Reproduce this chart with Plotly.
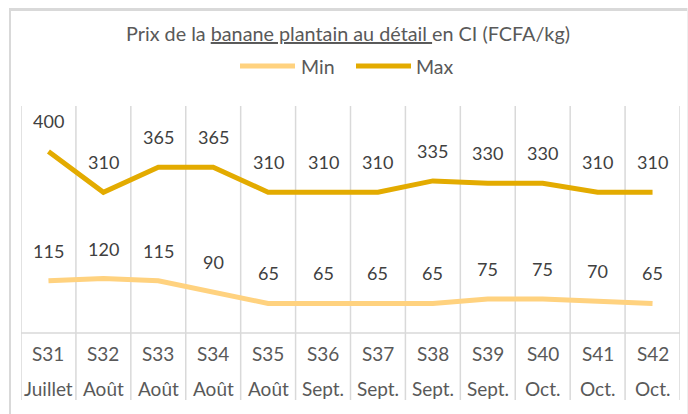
import plotly.graph_objects as go

weeks = ["S31", "S32", "S33", "S34", "S35", "S36", "S37", "S38", "S39", "S40", "S41", "S42"]
months = ["Juillet", "Août", "Août", "Août", "Août", "Sept.", "Sept.", "Sept.", "Sept.", "Oct.", "Oct.", "Oct."]
min_vals = [115, 120, 115, 90, 65, 65, 65, 65, 75, 75, 70, 65]
max_vals = [400, 310, 365, 365, 310, 310, 310, 335, 330, 330, 310, 310]

title_text = "Prix de la <u>banane plantain au détail\u00a0</u>en CI (FCFA/kg)"
series_names = ["Min", "Max"]
colors = {"Min": "#FFD27F", "Max": "#E3AB00"}

W, H = 688, 414
L, R, T, B = 21, 8, 106, 81
PW = W - L - R
PH = H - T - B
FONT = "Lato, 'Open Sans', sans-serif"
GRID = "#D9D9D9"


def px_x(p):
    return (p - L) / PW


def px_y(p):
    return (T + PH - p) / PH


fig = go.Figure()
xs = list(range(len(weeks)))
for name, vals in (("Min", min_vals), ("Max", max_vals)):
    fig.add_trace(go.Scatter(
        x=xs, y=vals, mode="lines", name=name,
        line=dict(color=colors[name], width=5),
        hoverinfo="skip", showlegend=False, cliponaxis=False,
    ))

shapes = []
# category separators (extend down through the label area)
for i in range(len(weeks) + 1):
    shapes.append(dict(type="line", xref="x", yref="paper",
                       x0=i - 0.5, x1=i - 0.5, y0=px_y(400), y1=1,
                       line=dict(color=GRID, width=1.5), layer="below"))
# axis line
shapes.append(dict(type="line", xref="paper", yref="paper", x0=0, x1=1, y0=0, y1=0,
                   line=dict(color=GRID, width=1.5), layer="below"))
# outer frame
shapes.append(dict(type="line", xref="paper", yref="paper",
                   x0=px_x(9), x1=px_x(690), y0=px_y(9.5), y1=px_y(9.5),
                   line=dict(color=GRID, width=3)))
shapes.append(dict(type="line", xref="paper", yref="paper",
                   x0=px_x(10), x1=px_x(10), y0=px_y(8), y1=px_y(416),
                   line=dict(color=GRID, width=2)))
shapes.append(dict(type="line", xref="paper", yref="paper",
                   x0=px_x(687.5), x1=px_x(687.5), y0=px_y(8), y1=px_y(416),
                   line=dict(color="#EEEEEE", width=1)))

# legend swatches
for x_left, name in ((240, "Min"), (356, "Max")):
    shapes.append(dict(type="line", xref="paper", yref="paper",
                       x0=px_x(x_left), x1=px_x(x_left + 55), y0=px_y(66), y1=px_y(66),
                       line=dict(color=colors[name], width=5)))

annotations = []
for vals in (min_vals, max_vals):
    for i, v in enumerate(vals):
        annotations.append(dict(x=i, y=v, xref="x", yref="y", text=str(v), showarrow=False,
                                yshift=30, font=dict(family=FONT, size=18, color="#404040")))
for i, (w, m) in enumerate(zip(weeks, months)):
    annotations.append(dict(x=i, y=px_y(353), xref="x", yref="paper", text=w, showarrow=False,
                            yanchor="middle", font=dict(family=FONT, size=19, color="#595959")))
    annotations.append(dict(x=i, y=px_y(388), xref="x", yref="paper", text=m, showarrow=False,
                            yanchor="middle", font=dict(family=FONT, size=19, color="#595959")))
annotations.append(dict(x=px_x(348), y=px_y(33), xref="paper", yref="paper", text=title_text,
                        showarrow=False, yanchor="middle",
                        font=dict(family=FONT, size=19.8, color="#595959")))
annotations.append(dict(x=px_x(299), y=px_y(66), xref="paper", yref="paper", text=series_names[0],
                        showarrow=False, xanchor="left", yanchor="middle",
                        font=dict(family=FONT, size=19.5, color="#595959")))
annotations.append(dict(x=px_x(414), y=px_y(66), xref="paper", yref="paper", text=series_names[1],
                        showarrow=False, xanchor="left", yanchor="middle",
                        font=dict(family=FONT, size=19.5, color="#595959")))

fig.update_layout(
    width=W, height=H,
    margin=dict(l=L, r=R, t=T, b=B, pad=0),
    paper_bgcolor="white", plot_bgcolor="white",
    xaxis=dict(range=[-0.5, len(weeks) - 0.5], showgrid=False, zeroline=False,
               showticklabels=False, showline=False, fixedrange=True),
    yaxis=dict(range=[0, 500], showgrid=False, zeroline=False,
               showticklabels=False, showline=False, fixedrange=True),
    shapes=shapes, annotations=annotations, showlegend=False,
)

fig.write_html("out.html", config={"displayModeBar": False},
               post_script="document.body.style.margin='0';document.body.style.overflow='hidden';")
